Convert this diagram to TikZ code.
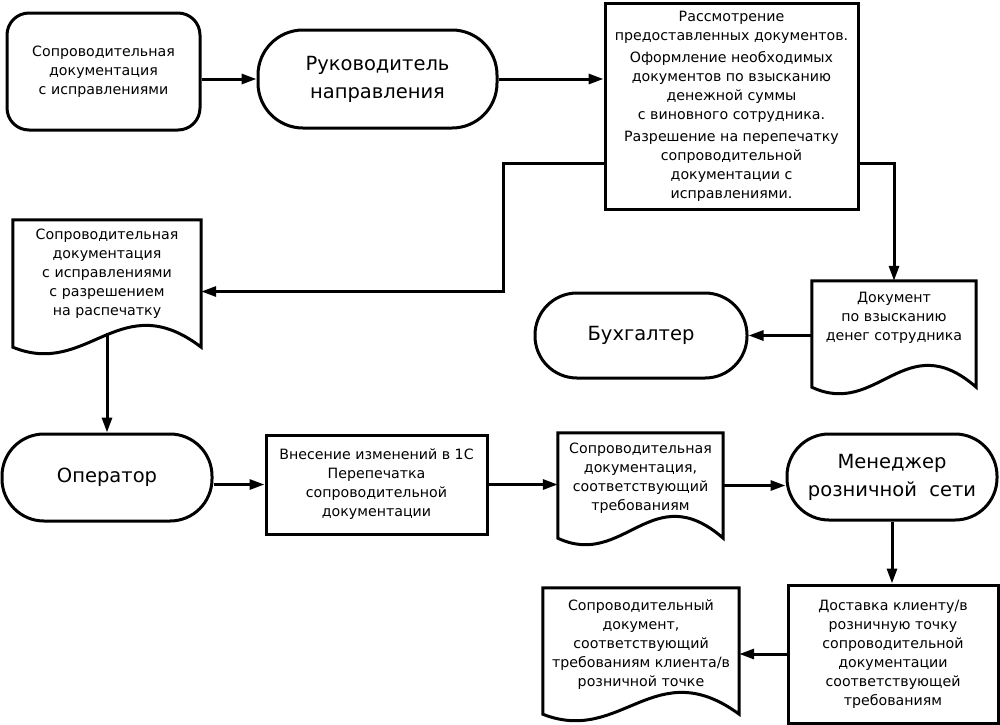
\documentclass[tikz,border=0pt]{standalone}
\usepackage{fontspec}
\setmainfont{DejaVu Sans}
\usetikzlibrary{arrows.meta,calc}
\newcommand\docoutline[1]{%
  \draw[shapeline] (#1.north west) -- (#1.north east) -- (#1.south east)
    .. controls ($(#1.south west)!0.57!(#1.south east)+(0,-62)$) and ($(#1.south west)!0.4!(#1.south east)+(0,31)$) .. (#1.south west) -- cycle;}
\tikzset{
  shapeline/.style={line width=3pt, line join=miter},
  base/.style={inner sep=0pt, align=center, font=\fontsize{14.2}{19}\selectfont},
  bigtext/.style={font=\fontsize{19.5}{28}\selectfont},
  roundbox/.style={base, draw, shapeline, rounded corners=22pt},
  term/.style={base, bigtext, draw, shapeline, rounded corners=42pt},
  procbox/.style={base, draw, shapeline},
  docbox/.style={base},
  doctext/.style={base},
  arr/.style={line width=3pt, -{Triangle[length=15pt,width=10pt]}},
}
\begin{document}
\begin{tikzpicture}[x=1pt,y=-1pt]
\useasboundingbox (0,0) rectangle (1000,724);
% nodes
\node[roundbox, minimum width=193pt, minimum height=117pt] (n1) at (103.5,71.5)
  {Сопроводительная\\документация\\с исправлениями};
\node[term, minimum width=239pt, minimum height=98pt, rounded corners=45pt] (rk) at (377.5,79)
  {Руководитель\\направления};
\node[procbox, minimum width=253pt, minimum height=206pt] (R) at (731.5,106)
  {Рассмотрение\\предоставленных документов.\\[3pt]
   Оформление необходимых\\документов по взысканию\\денежной суммы\\с виновного сотрудника.\\[3pt]
   Разрешение на перепечатку\\сопроводительной\\документации с\\исправлениями.};
% doc 2
\node[docbox, minimum width=188pt, minimum height=127pt] (d2) at (107,283.5) {};
\node[doctext] (d2t) at (107,274)
  {Сопроводительная\\документация\\с исправлениями\\с разрешением\\на распечатку};
\docoutline{d2}
% doc 3
\node[docbox, minimum width=164pt, minimum height=106pt] (d3) at (894,334) {};
\node[doctext] (d3t) at (894,318) {Документ\\по взысканию\\денег сотрудника};
\docoutline{d3}
\node[term, minimum width=212pt, minimum height=85pt] (B) at (641,335.5) {Бухгалтер};
% row 3
\node[term, minimum width=210pt, minimum height=87pt] (op) at (107,477.5) {Оператор};
\node[procbox, minimum width=221pt, minimum height=99pt] (V) at (376.5,484.5)
  {Внесение изменений в 1С\\Перепечатка\\сопроводительной\\документации};
\node[docbox, minimum width=165pt, minimum height=105pt] (d4) at (640.5,485.5) {};
\node[doctext] (d4t) at (640.5,478)
  {Сопроводительная\\документация,\\соответствующий\\требованиям};
\docoutline{d4}
\node[term, minimum width=210pt, minimum height=86pt] (M) at (892,477)
  {Менеджер\\розничной\ \ сети};
% row 4
\node[procbox, minimum width=210pt, minimum height=138pt] (D) at (893,654)
  {Доставка клиенту/в\\розничную точку\\сопроводительной\\документации\\соответствующей\\требованиям};
\node[docbox, minimum width=196pt, minimum height=126pt] (d5) at (641,651) {};
\node[doctext] (d5t) at (641,645)
  {Сопроводительный\\документ,\\соответствующий\\требованиям клиента/в\\розничной точке};
\docoutline{d5}
% helper coordinates
\coordinate (Rl) at ($(R.south west)+(0,-47)$);
\coordinate (Rr) at ($(R.south east)+(0,-47)$);
\coordinate (d2in) at ($(d2.east)+(0,8)$);
\coordinate (d2out) at ($(d2.south)+(0,-14)$);
% connectors
\draw[arr] (n1.east|-rk.west) -- (rk.west);
\draw[arr] (rk.east) -- (rk.east-|R.west);
\draw[arr] (Rl) -- ++(-100,0) |- (d2in);
\draw[arr] (Rr) -| (d3.north);
\draw[arr] (d3.west|-B.east) -- (B.east);
\draw[arr] (d2out) -- (op.north);
\draw[arr] (op.east|-V.west) -- (V.west);
\draw[arr] (V.east) -- (V.east-|d4.west);
\draw[arr] (d4.east) -- (d4.east-|M.west);
\draw[arr] (M.south) -- (M.south|-D.north);
\draw[arr] (D.west) -- (D.west-|d5.east);
\end{tikzpicture}
\end{document}
